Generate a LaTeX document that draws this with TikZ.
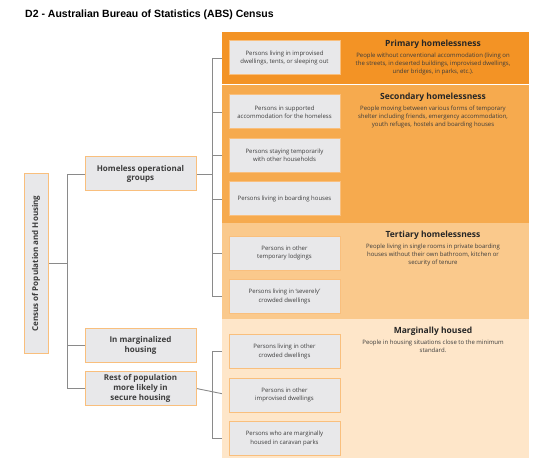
\documentclass[tikz,border=0pt]{standalone}
\usepackage{fontspec}
\setmainfont{Open Sans}
\newfontfamily\headfont{Liberation Sans}
\usepackage{tikz}
\usetikzlibrary{positioning,backgrounds}
\definecolor{absprimary}{HTML}{F39325}
\definecolor{abssecondary}{HTML}{F6AA4E}
\definecolor{abstertiary}{HTML}{FAC98C}
\definecolor{absmarginal}{HTML}{FEE6C9}
\definecolor{absedge}{HTML}{F9BF7D}
\definecolor{absgrey}{HTML}{E8E8EA}
\definecolor{absink}{HTML}{3C3C3C}
\definecolor{abslink}{HTML}{8A8A8A}

\begin{document}
\begin{tikzpicture}[
  x=1pt,y=-1pt,
  node distance=8.5pt,
  band/.style={inner sep=0pt,minimum width=307pt},
  b/.style={draw=absedge,line width=1pt,fill=absgrey,align=center,text=absink,inner sep=2pt},
  group/.style={b,font=\fontsize{6}{8.3}\selectfont,minimum width=111pt,minimum height=34pt},
  mid/.style={b,font=\bfseries\fontsize{8}{9.8}\selectfont,minimum width=111pt,minimum height=34pt},
  head/.style={font=\bfseries\fontsize{8.5}{10}\selectfont,text=black!85,inner sep=0pt},
  desc/.style={font=\fontsize{6}{8.3}\selectfont,text=absink,align=center,inner sep=0pt},
  link/.style={draw=abslink,line width=0.9pt}
]
\useasboundingbox (0,0) rectangle (538,465);
\node[font=\headfont\bfseries\fontsize{10.5}{12}\selectfont,anchor=west,inner sep=0pt] (title) at (25,15) {D2 - Australian Bureau of Statistics (ABS) Census};

% bands
\node[band,anchor=north west,fill=absprimary,minimum height=52pt] (primary) at (222,32) {};
\node[band,fill=abssecondary,minimum height=138pt,below=0pt of primary] (secondary) {};
\node[band,fill=abstertiary,minimum height=96pt,below=0pt of secondary] (tertiary) {};
\node[band,fill=absmarginal,minimum height=139pt,below=0pt of tertiary] (marginal) {};

\node[head] (ptitle) at (433,44) {Primary homelessness};
\node[desc,below=4pt of ptitle] (pdesc) {People without conventional accommodation (living on\\the streets, in deserted buildings, improvised dwellings,\\under bridges, in parks, etc.).};
\node[head] (stitle) at (433,97) {Secondary homelessness};
\node[desc,below=4pt of stitle] (sdesc) {People moving between various forms of temporary\\shelter including friends, emergency accommodation,\\youth refuges, hostels and boarding houses};
\node[head] (ttitle) at (433,235) {Tertiary homelessness};
\node[desc,below=4pt of ttitle] (tdesc) {People living in single rooms in private boarding\\houses without their own bathroom, kitchen or\\security of tenure};
\node[head] (mtitle) at (433,331) {Marginally housed};
\node[desc,below=4pt of mtitle] (mdesc) {People in housing situations close to the minimum\\standard.};

% groups
\node[group] (b1) at (284.5,58) {Persons living in improvised\\dwellings, tents, or sleeping out};
\node[group,below=19pt of b1] (b2) {Persons in supported\\accommodation for the homeless};
\node[group,below=of b2] (b3) {Persons staying temporarily\\with other households};
\node[group,below=of b3] (b4) {Persons living in boarding houses};
\node[group,below=19pt of b4] (b5) {Persons in other\\temporary lodgings};
\node[group,below=of b5] (b6) {Persons living in `severely'\\crowded dwellings};
\node[group,below=20pt of b6] (b7) {Persons living in other\\crowded dwellings};
\node[group,below=of b7] (b8) {Persons in other\\improvised dwellings};
\node[group,below=of b8] (b9) {Persons who are marginally\\housed in caravan parks};

% census split
\node[b,rotate=90,minimum width=179pt,minimum height=24pt,font=\bfseries\fontsize{8}{10}\selectfont] (root) at (36,263.5) {Census of Population and Housing};
\node[mid] (hog) at (140.5,174) {Homeless operational\\groups};
\node[mid] (marg) at (140.5,345.5) {In marginalized\\housing};
\node[mid,below=8pt of marg] (rest) {Rest of population\\more likely in\\secure housing};

\begin{scope}[on background layer]
\coordinate (lbus) at (67,0);
\coordinate (rbus) at (212,0);
\draw[link] (root.south) -- (root.south -| lbus);
\draw[link] (hog.west) -- (hog.west -| lbus) -- (rest.west -| lbus) -- (rest.west);
\draw[link] (marg.west) -- (marg.west -| lbus);
\draw[link] (hog.east) -- (hog.east -| rbus);
\draw[link] (b1.west -| rbus) -- (b6.west -| rbus);
\foreach \k in {b1,b2,b3,b4,b5,b6}
  \draw[link] (\k.west -| rbus) -- (\k.west);
\draw[link] (rest.east) -- (b8.west);
\draw[link] (b7.west) -- (b7.west -| rbus) -- (b9.west -| rbus) -- (b9.west);
\end{scope}
\end{tikzpicture}
\end{document}
